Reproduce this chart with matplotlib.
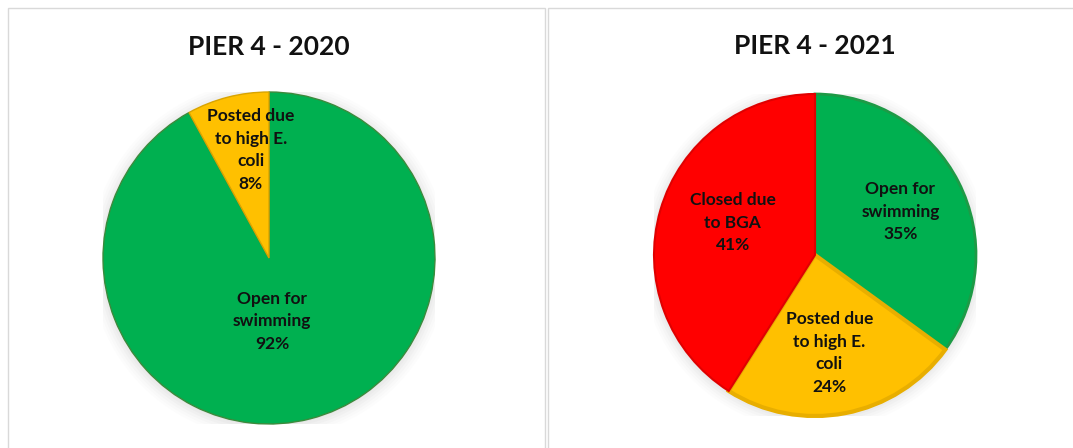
import matplotlib
matplotlib.use("Agg")
import matplotlib.pyplot as plt
from matplotlib.patches import Rectangle, Circle
import numpy as np

plt.rcParams['font.family'] = ['Lato', 'DejaVu Sans']

W, H = 1073, 448

# data
titles = ['PIER 4 - 2020', 'PIER 4 - 2021']
labels_2020 = ['Open for\nswimming', 'Posted due\nto high E.\ncoli']
values_2020 = [92, 8]
labels_2021 = ['Open for\nswimming', 'Posted due\nto high E.\ncoli', 'Closed due\nto BGA']
values_2021 = [35, 24, 41]

green = '#00B050'
yellow = '#FFC000'
red = '#FF0000'

colors_2020 = [green, yellow]
edges_2020 = ['#3C8A3C', '#D9A400']
colors_2021 = [green, yellow, red]
edges_2021 = ['#1E9A46', '#E8AE00', '#E00000']

# label placement (pie units) as Excel "best fit" put them
pos_2020 = [(0.02, -0.38), (-0.11, 0.65)]
pos_2021 = [(0.53, 0.27), (0.09, -0.61), (-0.51, 0.20)]

fig = plt.figure(figsize=(W / 100, H / 100), dpi=100)
fig.patch.set_facecolor('white')

# panel frames
for x0, x1 in [(8, 545), (548, 1080)]:
    fig.patches.append(Rectangle((x0 / W, -0.05), (x1 - x0) / W, (H - 8) / H + 0.05,
                                 transform=fig.transFigure, fill=False,
                                 edgecolor='#D9D9D9', linewidth=1.0))


def draw_pie(cx, cy, r, vals, cols, eds, lws, labs, pos, title, title_y):
    ax = fig.add_axes([(cx - r) / W, (H - cy - r) / H, 2 * r / W, 2 * r / H])
    # soft shadow
    for k, a in zip(np.linspace(1.08, 1.0, 6), [0.02, 0.025, 0.03, 0.035, 0.04, 0.05]):
        ax.add_patch(Circle((0, -0.01), k, color='#808080', alpha=a, lw=0, zorder=0))
    wedges, _ = ax.pie(vals, colors=cols, startangle=90, counterclock=False,
                       wedgeprops=dict(linewidth=1))
    for w, e, lw in zip(wedges, eds, lws):
        w.set_edgecolor(e)
        w.set_linewidth(lw)
        w.set_zorder(2)
    tot = sum(vals)
    for lab, v, (x, y) in zip(labs, vals, pos):
        ax.text(x, y, '%s\n%d%%' % (lab, round(100 * v / tot)), ha='center', va='center',
                fontsize=12.5, fontweight='bold', color='#111111', linespacing=1.5, zorder=3)
    ax.set_xlim(-1, 1)
    ax.set_ylim(-1, 1)
    ax.set_aspect('equal')
    ax.axis('off')
    fig.text(cx / W, 1 - title_y / H, title, ha='center', va='center',
             fontsize=19, fontweight='bold', color='#111111')


draw_pie(269, 258, 166, values_2020, colors_2020, edges_2020, [1.0, 1.0],
         labels_2020, pos_2020, titles[0], 47)
draw_pie(815, 255, 161, values_2021, colors_2021, edges_2021, [2.0, 3.0, 1.5],
         labels_2021, pos_2021, titles[1], 46)

fig.savefig('out.png', dpi=100, facecolor='white')
